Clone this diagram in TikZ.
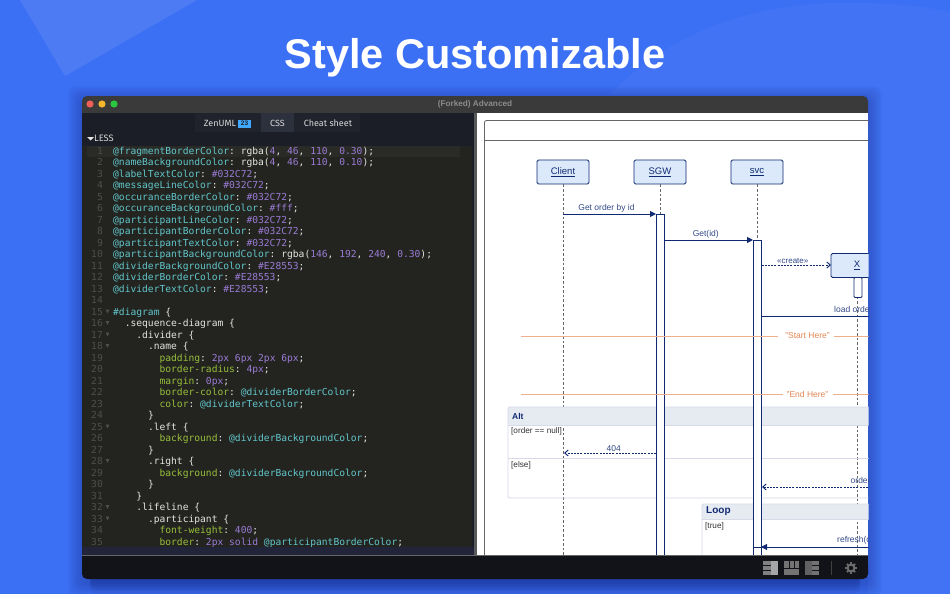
\documentclass[tikz,border=0pt]{standalone}
\usepackage{fontspec}
\setmainfont{Liberation Sans}
\setmonofont{DejaVu Sans Mono}
\newfontfamily\tabfont{Fira Sans}
\usepackage{tikz}
\usetikzlibrary{positioning,arrows.meta}
\definecolor{bgblue}{HTML}{3B6FF4}
\definecolor{navy}{HTML}{0F2A72}
\definecolor{partfill}{HTML}{DBE9FA}
\definecolor{dividercol}{HTML}{E28553}
\definecolor{fragborder}{HTML}{D5DAE6}
\definecolor{fragname}{HTML}{E6EAF1}
\definecolor{vrcol}{HTML}{62C6CC}
\definecolor{kwcol}{HTML}{97BE3C}
\definecolor{nmcol}{HTML}{9A7BD6}
\definecolor{txcol}{HTML}{E4E4E0}
\definecolor{lncol}{HTML}{4E4F4B}
\definecolor{titlebar}{HTML}{3A3A3A}
\definecolor{editorbg}{HTML}{23241F}
\definecolor{activeline}{HTML}{2A2B26}
\definecolor{tabbar}{HTML}{1C1E27}
\definecolor{tabgroup}{HTML}{20222C}
\definecolor{tabactive}{HTML}{2D303D}
\definecolor{stripbg}{HTML}{22243A}
\definecolor{footerbg}{HTML}{121319}
\definecolor{lightred}{HTML}{EE5F58}
\definecolor{lightyellow}{HTML}{F5B62E}
\definecolor{lightgreen}{HTML}{2BC63F}
\tikzstyle{codeln}=[
	anchor=base west,
	inner sep=0pt,
	text=txcol,
	font=\ttfamily\fontsize{9.63}{11}\selectfont
]
\tikzstyle{numln}=[
	anchor=base east,
	inner sep=0pt,
	text=lncol,
	font=\ttfamily\fontsize{9.63}{11}\selectfont
]
\tikzstyle{tab}=[
	inner sep=0pt,
	text=black!15,
	font=\tabfont\fontsize{9}{10}\selectfont
]
\tikzstyle{participant}=[
	draw=navy,
	fill=partfill,
	line width=0.9pt,
	rounded corners=1.5pt,
	minimum width=52pt,
	minimum height=24pt,
	inner sep=0pt,
	text=navy,
	font=\fontsize{9.5}{11}\selectfont
]
\tikzstyle{occurrence}=[
	draw=navy,
	fill=white,
	line width=0.95pt
]
\tikzstyle{lifeline}=[
	draw=black!60,
	line width=0.6pt,
	dash pattern=on 2.6pt off 2pt
]
\tikzstyle{msg}=[
	draw=navy,
	line width=0.95pt,
	-{Triangle[length=6pt,width=6pt]}
]
\tikzstyle{retmsg}=[
	draw=navy,
	line width=0.95pt,
	dash pattern=on 2pt off 1.2pt,
	-{Straight Barb[length=3.5pt,width=6pt]}
]
\tikzstyle{msglabel}=[
	inner sep=0pt,
	text=navy!85!white,
	font=\fontsize{8.5}{10}\selectfont
]
\tikzstyle{dividerline}=[
	draw=dividercol!65,
	line width=0.9pt
]
\tikzstyle{dividerlabel}=[
	inner sep=0pt,
	text=dividercol,
	font=\fontsize{8.5}{10}\selectfont
]
\tikzstyle{fragment}=[
	draw=fragborder,
	line width=0.9pt,
	rounded corners=1.5pt
]
\tikzstyle{guard}=[
	anchor=west,
	inner sep=0pt,
	text=black!80,
	font=\fontsize{8.2}{10}\selectfont
]
\tikzstyle{fragtitle}=[
	anchor=west,
	inner sep=0pt,
	text=navy,
	font=\bfseries\fontsize{8.5}{10}\selectfont
]
\newcommand{\vr}[1]{\textcolor{vrcol}{#1}}
\newcommand{\kw}[1]{\textcolor{kwcol}{#1}}
\newcommand{\nm}[1]{\textcolor{nmcol}{#1}}
\newcommand{\lifename}[1]{\raisebox{-1pt}{\underline{#1}}}
\newcommand{\codeline}[3]{%
	\node[numln] (num#1) at (103,142.7+11.5*#1) {#1};
	\node[codeln] (line#1) at (113+5.8*#2,142.7+11.5*#1) {#3};
}
\newcommand{\foldmark}[1]{%
	\fill[lncol] (105.5,137.2+11.5*#1) -- (109.5,137.2+11.5*#1) -- (107.5,140.7+11.5*#1) -- cycle;
}
\begin{document}
\begin{tikzpicture}[x=1pt,y=-1pt]
\useasboundingbox (0,0) rectangle (950,594);
% backdrop
\fill[bgblue] (0,0) rectangle (950,594);
\fill[white,opacity=0.09] (20,0) -- (197,0) -- (65,76) -- cycle;
\fill[white,opacity=0.03] (610,95) .. controls (660,40) and (740,6) .. (830,3) .. controls (880,2) and (920,5) .. (950,12) -- (950,594) -- (868,594) -- (868,95) -- cycle;
\foreach \s in {14,12,...,2} {
	\fill[black!75!blue,opacity=0.03,rounded corners=8pt] (82-\s,96-\s+4) rectangle (868+\s,579+\s+4);
}
\foreach \s in {14,11,...,2} {
	\fill[black!75!blue,opacity=0.05,rounded corners=6pt] (90,560) rectangle (860,579+\s);
}

\node[inner sep=0pt,text=white,font=\bfseries\fontsize{41.5}{48}\selectfont] (title) at (475,57.5) {Style Customizable};

% window
\fill[titlebar,rounded corners=5pt] (82,96) rectangle (868,130);
\fill[lightred] (90,104) circle (3.6);
\fill[lightyellow] (102,104) circle (3.6);
\fill[lightgreen] (114,104) circle (3.6);
\node[inner sep=0pt,text=black!45,font=\bfseries\fontsize{8.2}{9}\selectfont] (wintitle) at (475,104) {(Forked) Advanced};

% editor pane
\fill[tabbar] (82,113) rectangle (474,146);
\fill[editorbg] (82,146) rectangle (472,547);
\fill[activeline] (87,146) rectangle (460,157);
\fill[stripbg] (82,547) rectangle (474,556);
\fill[tabbar] (472,146) rectangle (474,547);
\fill[black!65] (474,113) rectangle (477,556);
\fill[tabgroup] (195,113) rectangle (360,132);
\fill[tabactive] (261,113) rectangle (294,132);
\node[tab] (tabzen) at (220,123) {ZenUML};
\node[inner sep=0pt,minimum width=13pt,minimum height=8pt,fill=blue!45!cyan!75!white,text=tabbar,font=\bfseries\fontsize{6.5}{7}\selectfont] (badge) at (244.5,123.5) {23};
\node[tab] (tabcss) at (277.5,123) {CSS};
\node[tab] (tabcheat) at (328,123) {Cheat sheet};
\fill[txcol] (87,137) -- (94,137) -- (90.5,140.5) -- cycle;
\node[tab,anchor=west,font=\tabfont\fontsize{9.3}{10}\selectfont] (less) at (94,138) {LESS};

\codeline{1}{0}{\vr{@fragmentBorderColor}: rgba(\nm{4}, \nm{46}, \nm{110}, \nm{0.30});}
\codeline{2}{0}{\vr{@nameBackgroundColor}: rgba(\nm{4}, \nm{46}, \nm{110}, \nm{0.10});}
\codeline{3}{0}{\vr{@labelTextColor}: \nm{\#032C72};}
\codeline{4}{0}{\vr{@messageLineColor}: \nm{\#032C72};}
\codeline{5}{0}{\vr{@occuranceBorderColor}: \nm{\#032C72};}
\codeline{6}{0}{\vr{@occuranceBackgroundColor}: \nm{\#fff};}
\codeline{7}{0}{\vr{@participantLineColor}: \nm{\#032C72};}
\codeline{8}{0}{\vr{@participantBorderColor}: \nm{\#032C72};}
\codeline{9}{0}{\vr{@participantTextColor}: \nm{\#032C72};}
\codeline{10}{0}{\vr{@participantBackgroundColor}: rgba(\nm{146}, \nm{192}, \nm{240}, \nm{0.30});}
\codeline{11}{0}{\vr{@dividerBackgroundColor}: \nm{\#E28553};}
\codeline{12}{0}{\vr{@dividerBorderColor}: \nm{\#E28553};}
\codeline{13}{0}{\vr{@dividerTextColor}: \nm{\#E28553};}
\node[numln] (num14) at (103,142.7+11.5*14) {14};
\codeline{15}{0}{\vr{\#diagram} \{}
\codeline{16}{2}{.sequence-diagram \{}
\codeline{17}{4}{.divider \{}
\codeline{18}{6}{.name \{}
\codeline{19}{8}{\kw{padding}: \nm{2px} \nm{6px} \nm{2px} \nm{6px};}
\codeline{20}{8}{\kw{border-radius}: \nm{4px};}
\codeline{21}{8}{\kw{margin}: \nm{0px};}
\codeline{22}{8}{\kw{border-color}: \vr{@dividerBorderColor};}
\codeline{23}{8}{\kw{color}: \vr{@dividerTextColor};}
\codeline{24}{6}{\}}
\codeline{25}{6}{.left \{}
\codeline{26}{8}{\kw{background}: \vr{@dividerBackgroundColor};}
\codeline{27}{6}{\}}
\codeline{28}{6}{.right \{}
\codeline{29}{8}{\kw{background}: \vr{@dividerBackgroundColor};}
\codeline{30}{6}{\}}
\codeline{31}{4}{\}}
\codeline{32}{4}{.lifeline \{}
\codeline{33}{6}{.participant \{}
\codeline{34}{8}{\kw{font-weight}: \nm{400};}
\codeline{35}{8}{\kw{border}: \nm{2px} \nm{solid} \vr{@participantBorderColor};}
\foreach \n in {15,16,17,18,25,28,32,33} {
	\foldmark{\n}
}

% diagram pane
\fill[white] (477,113) rectangle (868,556);
\begin{scope}
\clip (477,113) rectangle (868.5,556);
\draw[black!60,line width=0.8pt,rounded corners=2pt] (484.5,120.5) rectangle (900,600);
\draw[black!60,line width=0.8pt] (484.5,140.5) -- (900,140.5);

\node[participant] (client) at (563,172) {\lifename{Client}};
\node[participant, right=44.1pt of client] (sgw) {\lifename{SGW}};
\node[participant, right=44.1pt of sgw] (svc) {\lifename{svc}};
\node[participant, right=47.1pt of svc,yshift=-93.5pt] (x) {\lifename{X}};

\coordinate (clientend) at (563,556);
\coordinate (sgwend) at (660,556);
\coordinate (svcend) at (757,556);
\coordinate (xend) at (857,556);
\draw[lifeline] (client) -- (clientend);
\draw[lifeline] (sgw) -- (sgwend);
\draw[lifeline] (svc) -- (svcend);
\draw[lifeline] (x) -- (xend);

% fragments
\fill[fragname,rounded corners=1.5pt] (508,407) rectangle (900,425);
\node[fragtitle] (alt) at (512,416) {Alt};
\draw[fragment] (508,407) rectangle (900,498);
\draw[fragment] (508,425) -- (900,425);
\draw[fragment] (508,458) -- (900,458);
\node[guard] (guardnull) at (511,431.5) {[order == null]};
\node[guard] (guardelse) at (511,465.5) {[else]};

\fill[fragname,rounded corners=1.5pt] (702,504) rectangle (900,519);
\node[fragtitle,font=\bfseries\fontsize{10}{12}\selectfont] (loop) at (706,511.5) {Loop};
\draw[fragment] (702,504) rectangle (900,600);
\draw[fragment] (702,519) -- (900,519);
\node[guard] (guardtrue) at (705,526) {[true]};

% occurrences
\node[occurrence,anchor=north,minimum width=8pt,minimum height=350pt,inner sep=0pt] (sgwocc) at (660,214) {};
\node[occurrence,anchor=north,minimum width=8pt,minimum height=330pt,inner sep=0pt] (svcocc) at (757,240) {};
\node[occurrence,anchor=north,minimum width=8pt,minimum height=20pt,inner sep=0pt,rounded corners=1pt] (xocc) at (858,277) {};

% messages
\coordinate (clientmsg) at (563,214);
\coordinate (sgwin) at (656,214);
\coordinate (sgwout) at (664.5,240);
\coordinate (svcin) at (753,240);
\coordinate (svcout) at (761.5,265);
\coordinate (xin) at (831,265);
\coordinate (loadout) at (761.5,316);
\coordinate (loadend) at (900,316);
\coordinate (sgwret) at (656,453);
\coordinate (clientret) at (564,453);
\coordinate (orderfrom) at (900,487);
\coordinate (orderto) at (762,487);
\coordinate (refreshfrom) at (900,547);
\coordinate (refreshto) at (761,547);
\coordinate (refreshback) at (753,547);
\draw[msg] (clientmsg) -- (sgwin) node[msglabel,midway,above=1.2pt,xshift=-3pt] (getorder) {Get order by id};
\draw[msg] (sgwout) -- (svcin) node[msglabel,midway,above=1.2pt,xshift=-3pt] (getid) {Get(id)};
\draw[retmsg] (svcout) -- (xin) node[msglabel,midway,above=1.2pt,xshift=-3.5pt,font=\fontsize{8}{10}\selectfont] (create) {«create»};
\draw[navy,line width=0.95pt] (loadout) -- (loadend);
\node[msglabel,anchor=west] (loadorder) at (834,309.5) {load order};
\draw[retmsg] (sgwret) -- (clientret) node[msglabel,midway,above=1.2pt,xshift=3.8pt] (notfound) {404};
\draw[retmsg] (orderfrom) -- (orderto);
\node[msglabel,anchor=west] (orderlabel) at (850.5,480) {order};
\draw[msg] (refreshfrom) -- (refreshto);
\draw[navy,line width=0.95pt] (refreshto) -- (refreshback);
\node[msglabel,anchor=west] (refreshlabel) at (837,540) {refresh(order)};

% dividers
\node[dividerlabel] (starthere) at (807.5,336) {"Start Here"};
\node[dividerlabel] (endhere) at (807.5,394.5) {"End Here"};
\coordinate (startleft) at (521,336);
\coordinate (startgap) at (778,336);
\coordinate (startback) at (834,336);
\coordinate (startright) at (900,336);
\coordinate (endleft) at (521,394.5);
\coordinate (endgap) at (783,394.5);
\coordinate (endback) at (833,394.5);
\coordinate (endright) at (900,394.5);
\draw[dividerline] (startleft) -- (startgap);
\draw[dividerline] (startback) -- (startright);
\draw[dividerline] (endleft) -- (endgap);
\draw[dividerline] (endback) -- (endright);
\end{scope}

% bottom bar
\fill[footerbg,rounded corners=5pt] (82,560) rectangle (868,579);
\fill[footerbg] (82,555.5) rectangle (868,566);
\draw[black!60,line width=0.4pt] (82,555.5) -- (868,555.5);
\fill[black!50] (763,561) rectangle (771,575);
\fill[black!35] (771,561) rectangle (778,575);
\draw[footerbg,line width=0.7pt] (763,565.7) -- (771,565.7) (763,570.3) -- (771,570.3);
\fill[black!55] (784,561) rectangle (799,575);
\draw[footerbg,line width=0.7pt] (784,568) -- (799,568) (789,561) -- (789,568) (794,561) -- (794,568);
\fill[black!62] (805,561) rectangle (812,575);
\fill[black!55] (812,561) rectangle (819,575);
\draw[footerbg,line width=0.7pt] (812,565.7) -- (819,565.7) (812,570.3) -- (819,570.3);
\draw[black!75,line width=0.5pt] (831,561) -- (831,575);
\foreach \a in {0,45,...,315} {
	\draw[black!58,line width=2pt] (851,568)+(\a:3.5) -- +(\a:5.7);
}
\draw[black!58,line width=2pt] (851,568) circle (3.4);
\end{tikzpicture}
\end{document}
